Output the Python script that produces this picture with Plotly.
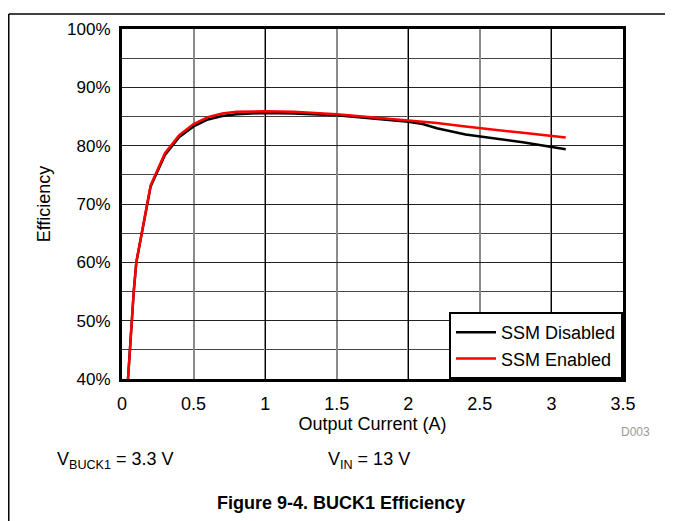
import plotly.graph_objects as go

# Data
current_disabled = [0.042, 0.054, 0.066, 0.082, 0.1, 0.2, 0.3, 0.4, 0.5, 0.6, 0.7, 0.8, 1.0, 1.2, 1.5, 1.8, 2.0, 2.1, 2.2, 2.4, 2.6, 2.8, 3.1]
eff_disabled =     [40, 45, 50, 55, 60, 73.0, 78.4, 81.5, 83.3, 84.5, 85.1, 85.4, 85.6, 85.5, 85.2, 84.6, 84.1, 83.7, 83.0, 81.9, 81.2, 80.6, 79.4]
current_enabled =  [0.042, 0.054, 0.066, 0.082, 0.1, 0.2, 0.3, 0.4, 0.5, 0.6, 0.7, 0.8, 1.0, 1.2, 1.5, 1.8, 2.0, 2.1, 2.2, 2.4, 2.6, 2.8, 3.1]
eff_enabled =      [40, 45, 50, 55, 60, 73.2, 78.7, 81.8, 83.7, 84.9, 85.5, 85.8, 85.9, 85.8, 85.4, 84.8, 84.3, 84.1, 83.9, 83.3, 82.7, 82.2, 81.4]

y_tickvals = [40, 50, 60, 70, 80, 90, 100]
y_ticktext = ["40%", "50%", "60%", "70%", "80%", "90%", "100%"]
x_tickvals = [0, 0.5, 1, 1.5, 2, 2.5, 3, 3.5]
x_ticktext = ["0", "0.5", "1", "1.5", "2", "2.5", "3", "3.5"]

FONT = "Arial, 'Liberation Sans', Helvetica, sans-serif"

fig = go.Figure()
fig.add_trace(go.Scatter(x=current_disabled, y=eff_disabled, mode="lines",
                         name="SSM Disabled", line=dict(color="black", width=2.5)))
fig.add_trace(go.Scatter(x=current_enabled, y=eff_enabled, mode="lines",
                         name="SSM Enabled", line=dict(color="#ff0000", width=2.5)))
# empty trace that hosts the overlay axis carrying the darker integer gridlines
fig.add_trace(go.Scatter(x=[], y=[], xaxis="x2", showlegend=False, hoverinfo="skip"))

fig.update_layout(
    width=665, height=513,
    margin=dict(l=114, r=50, t=16, b=142),
    paper_bgcolor="white", plot_bgcolor="white",
    font=dict(family=FONT, size=18, color="black"),
    showlegend=True,
    legend=dict(x=1, y=0, xanchor="right", yanchor="bottom",
                bgcolor="white", bordercolor="black", borderwidth=2,
                font=dict(size=18), tracegroupgap=0, itemwidth=40),
    xaxis=dict(range=[0, 3.5], tickvals=x_tickvals, ticktext=x_ticktext,
               showgrid=True, gridcolor="#8a8a8a", gridwidth=1.5,
               showline=True, linecolor="black", linewidth=3, mirror=True,
               ticks="", zeroline=False, ticklabelstandoff=6,
               tickfont=dict(size=18),
               title=dict(text="Output Current (A)", standoff=2, font=dict(size=18))),
    xaxis2=dict(range=[0, 3.5], overlaying="x", dtick=1, tick0=0,
                showgrid=True, gridcolor="black", gridwidth=1,
                showticklabels=False, ticks="", zeroline=False, showline=False,
                matches="x"),
    yaxis=dict(range=[40, 100], tickvals=y_tickvals, ticktext=y_ticktext,
               showgrid=True, gridcolor="#222222", gridwidth=1,
               minor=dict(dtick=5, tick0=40, showgrid=True, gridcolor="#444444", gridwidth=1),
               showline=True, linecolor="black", linewidth=3, mirror=True,
               ticks="", zeroline=False, ticklabelstandoff=5,
               tickfont=dict(size=17),
               title=dict(text="Efficiency", standoff=12, font=dict(size=18))),
)

# page frame lines
fig.add_shape(type="line", xref="paper", yref="paper",
              x0=-0.226, x1=1.2, y0=1.043, y1=1.043,
              line=dict(color="black", width=1.5))
fig.add_shape(type="line", xref="paper", yref="paper",
              x0=-0.226, x1=-0.226, y0=1.043, y1=-0.41,
              line=dict(color="black", width=1.5))

fig.add_annotation(text="D003", xref="paper", yref="paper", x=1.024, y=-0.152,
                   xanchor="center", yanchor="middle",
                   showarrow=False, font=dict(size=12, color="#999999"))
fig.add_annotation(text="V<sub>BUCK1</sub> = 3.3 V", xref="paper", yref="paper",
                   x=-0.133, y=-0.232, xanchor="left", yanchor="middle",
                   showarrow=False, font=dict(size=18))
fig.add_annotation(text="V<sub>IN</sub> = 13 V", xref="paper", yref="paper",
                   x=0.407, y=-0.232, xanchor="left", yanchor="middle",
                   showarrow=False, font=dict(size=18))
fig.add_annotation(text="<b>Figure 9-4. BUCK1 Efficiency</b>", xref="paper", yref="paper",
                   x=0.437, y=-0.354, xanchor="center", yanchor="middle",
                   showarrow=False, font=dict(size=18))

fig.write_html("out.html")
